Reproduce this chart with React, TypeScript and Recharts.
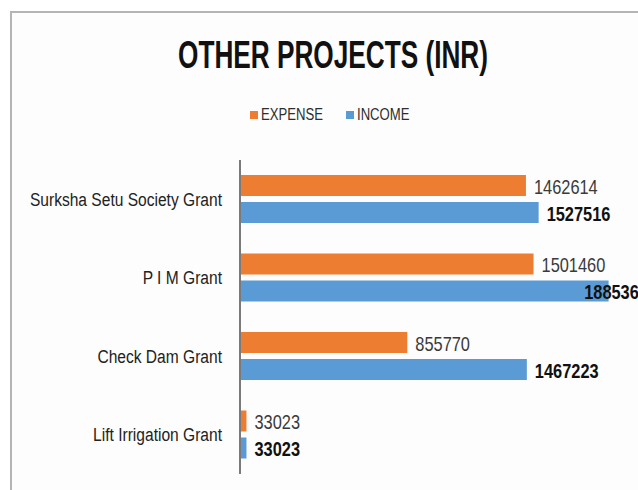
import React from 'react';
import { BarChart, Bar, XAxis, YAxis, LabelList } from 'recharts';

const categories = [
  'Surksha Setu Society Grant',
  'P I M Grant',
  'Check Dam Grant',
  'Lift Irrigation Grant',
];
const expenseValues = [1462614, 1501460, 855770, 33023];
const incomeValues = [1527516, 1885367, 1467223, 33023];
const seriesNames = ['EXPENSE', 'INCOME'];
const seriesColors = ['#ED7D31', '#5B9BD5'];
const title = 'OTHER PROJECTS (INR)';

const data = categories.map((name, i) => ({
  name,
  expense: expenseValues[i],
  income: incomeValues[i],
}));

const FONT = '"Liberation Sans", Arial, sans-serif';
const SX = 0.82; // narrow (condensed) horizontal scale
const FRAME_RIGHT = 648;
const LABEL_SIZE = 20;

const makeLabel = (bold: boolean) => (props: any) => {
  const { x, y, width, height, value } = props;
  const txt = String(value);
  const estW = txt.length * LABEL_SIZE * 0.556 * SX;
  let lx = x + width + 8;
  if (lx + estW > FRAME_RIGHT) lx = FRAME_RIGHT - estW;
  return (
    <g transform={`translate(${lx},${y + height / 2 + 1})`}>
      <text
        x={0}
        y={0}
        transform={`scale(${SX},1)`}
        dominantBaseline="central"
        fontFamily={FONT}
        fontSize={LABEL_SIZE}
        fontWeight={bold ? 'bold' : 'normal'}
        fill={bold ? '#111111' : '#3a3a3a'}
      >
        {txt}
      </text>
    </g>
  );
};

const CategoryTick = (props: any) => {
  const { x, y, payload } = props;
  return (
    <g transform={`translate(${x},${y})`}>
      <text
        x={0}
        y={0}
        transform={`scale(${SX},1)`}
        textAnchor="end"
        dominantBaseline="central"
        fontFamily={FONT}
        fontSize={19}
        fill="#222222"
      >
        {payload.value}
      </text>
    </g>
  );
};

export default function App() {
  return (
    <div
      style={{
        position: 'fixed',
        left: 0,
        top: 0,
        width: 638,
        height: 490,
        overflow: 'hidden',
        background: '#ffffff',
      }}
    >
      <div
        style={{
          position: 'absolute',
          left: 10,
          top: 11,
          width: 700,
          height: 600,
          borderTop: '2px solid #b4b4b4',
          borderLeft: '2px solid #b4b4b4',
          background: '#fdfdfd',
        }}
      />
      <svg
        width={638}
        height={100}
        style={{ position: 'absolute', left: 0, top: 0 }}
      >
        <text
          x={333}
          y={68}
          textAnchor="middle"
          fontFamily={FONT}
          fontWeight="bold"
          fontSize={39}
          fill="#111111"
          textLength={310}
          lengthAdjust="spacingAndGlyphs"
        >
          {title}
        </text>
      </svg>
      <div
        style={{
          position: 'absolute',
          left: 250,
          top: 105,
          display: 'flex',
          alignItems: 'center',
          fontFamily: FONT,
          fontSize: 16,
          lineHeight: '20px',
          color: '#2e2e2e',
        }}
      >
        {seriesNames.map((n, i) => (
          <div
            key={n}
            style={{
              display: 'flex',
              alignItems: 'center',
              width: i === 0 ? 96 : 80,
            }}
          >
            <span
              style={{
                display: 'inline-block',
                width: 8,
                height: 8,
                background: seriesColors[i],
                marginRight: 3,
                flex: 'none',
              }}
            />
            <span
              style={{
                display: 'inline-block',
                transform: `scaleX(${SX})`,
                transformOrigin: 'left center',
                whiteSpace: 'nowrap',
              }}
            >
              {n}
            </span>
          </div>
        ))}
      </div>
      <div style={{ position: 'absolute', left: 0, top: 0 }}>
        <BarChart
          width={660}
          height={490}
          data={data}
          layout="vertical"
          margin={{ top: 160, right: 29, bottom: 16, left: 0 }}
          barGap={6}
          barSize={21}
        >
          <XAxis type="number" domain={[0, 2000000]} hide />
          <YAxis
            type="category"
            dataKey="name"
            width={240}
            tickLine={false}
            tickSize={6}
            tickMargin={12}
            axisLine={{ stroke: '#7a7a7a', strokeWidth: 2 }}
            tick={<CategoryTick />}
            interval={0}
          />
          <Bar dataKey="expense" name={seriesNames[0]} fill={seriesColors[0]} isAnimationActive={false}>
            <LabelList dataKey="expense" content={makeLabel(false)} />
          </Bar>
          <Bar dataKey="income" name={seriesNames[1]} fill={seriesColors[1]} isAnimationActive={false}>
            <LabelList dataKey="income" content={makeLabel(true)} />
          </Bar>
        </BarChart>
      </div>
    </div>
  );
}
